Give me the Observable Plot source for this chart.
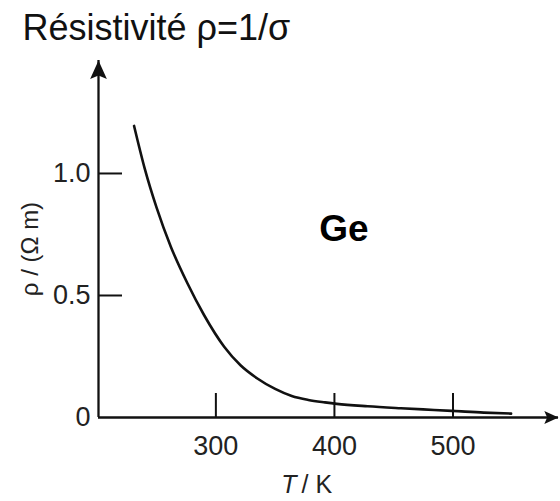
<!DOCTYPE html>
<html>
<head>
<meta charset="utf-8">
<script src="https://cdn.jsdelivr.net/npm/d3@7"></script>
<script src="https://cdn.jsdelivr.net/npm/@observablehq/plot@0.6"></script>
<style>
  html, body { margin: 0; padding: 0; background: #fff; }
  #chart svg { display: block; }
</style>
</head>
<body>
<div id="chart"></div>
<script>
// ---- data ----
const title = "Résistivité ρ=1/σ";
const seriesName = "Ge";
const yLabel = "ρ / (Ω m)";
const xLabelSymbol = "T";
const xLabelUnit = "/ K";

const temperature = [231, 240, 250, 262, 276, 290, 307, 321, 335, 350, 364, 378, 392, 402, 428, 456, 484, 500, 526, 549];
const resistivity = [1.195, 1.02, 0.86, 0.70, 0.55, 0.42, 0.29, 0.213, 0.16, 0.117, 0.088, 0.072, 0.062, 0.056, 0.046, 0.038, 0.031, 0.027, 0.020, 0.016];

const xTicks = [300, 400, 500];
const yTickMarks = [0.5, 1.0];
const yTickLabels = [0, 0.5, 1.0];

const xDomain = [201, 589];
const yDomain = [0, 1.463];

const seriesLabelT = 408;
const seriesLabelRho = 0.77;

// ---- build ----
const curve = temperature.map((t, i) => ({T: t, rho: resistivity[i]}));
const arrowUp = {draw(ctx, size) {
  const s = Math.sqrt(size), h = s, w = s * 0.45;
  ctx.moveTo(0, 0); ctx.lineTo(-w, h); ctx.lineTo(0, h * 0.8); ctx.lineTo(w, h); ctx.closePath();
}};
const arrowRight = {draw(ctx, size) {
  const s = Math.sqrt(size), h = s, w = s * 0.45;
  ctx.moveTo(0, 0); ctx.lineTo(-h, -w); ctx.lineTo(-h * 0.8, 0); ctx.lineTo(-h, w); ctx.closePath();
}};

const font = "'Liberation Sans', Arial, Helvetica, sans-serif";
const ink = "#111";

const chart = Plot.plot({
  width: 560,
  height: 501,
  marginLeft: 98,
  marginRight: 2,
  marginTop: 60,
  marginBottom: 84,
  style: {fontFamily: font, color: ink, background: "#fff"},
  x: {domain: xDomain, label: null},
  y: {domain: yDomain, label: null},
  marks: [
    // axis lines
    Plot.ruleX([xDomain[0]], {stroke: ink, strokeWidth: 2.3}),
    Plot.ruleY([yDomain[0]], {stroke: ink, strokeWidth: 2.3}),
    // arrowheads
    Plot.dot([{T: xDomain[0], rho: yDomain[1]}], {x: "T", y: "rho", symbol: arrowUp, r: 10.5, fill: ink, stroke: "none"}),
    Plot.dot([{T: xDomain[1], rho: yDomain[0]}], {x: "T", y: "rho", symbol: arrowRight, r: 8, fill: ink, stroke: "none"}),
    // inward ticks
    Plot.axisX(xTicks, {anchor: "bottom", tickSize: -24, fill: "none", stroke: ink, strokeWidth: 2, label: null}),
    Plot.axisY(yTickMarks, {anchor: "left", tickSize: -24, fill: "none", stroke: ink, strokeWidth: 2, label: null}),
    // tick labels
    Plot.axisX(xTicks, {anchor: "bottom", tickSize: 0, tickPadding: 18, fontSize: 27, fill: "#222", label: null}),
    Plot.axisY(yTickLabels, {anchor: "left", tickSize: 0, tickPadding: 8, fontSize: 27, fill: "#222", label: null,
      tickFormat: d => d === 0 ? "0" : d3.format(".1f")(d)}),
    // curve
    Plot.line(curve, {x: "T", y: "rho", curve: "monotone-x", stroke: ink, strokeWidth: 2.6}),
    // series label
    Plot.text([seriesName], {x: () => seriesLabelT, y: () => seriesLabelRho, text: d => d, fontSize: 37, fontWeight: "bold", fill: "#000", lineAnchor: "middle"}),
    // y label
    Plot.text([yLabel], {frameAnchor: "left", text: d => d, textAnchor: "middle", rotate: -90, dx: -68, dy: 10, fontSize: 24, fill: "#222", lineAnchor: "middle"}),
    // x label
    Plot.text([xLabelSymbol], {frameAnchor: "bottom", text: d => d, textAnchor: "end", dx: -32, dy: 67, fontSize: 25, fontStyle: "italic", fill: "#222", lineAnchor: "middle"}),
    Plot.text([xLabelUnit], {frameAnchor: "bottom", text: d => d, textAnchor: "start", dx: -27, dy: 67, fontSize: 25, fill: "#222", lineAnchor: "middle"}),
    // title
    Plot.text([title], {frameAnchor: "top-left", text: d => d, textAnchor: "start", lineAnchor: "top", dx: -76, dy: -46, fontSize: 36, fill: "#111"})
  ]
});
document.getElementById("chart").appendChild(chart);
</script>
</body>
</html>
